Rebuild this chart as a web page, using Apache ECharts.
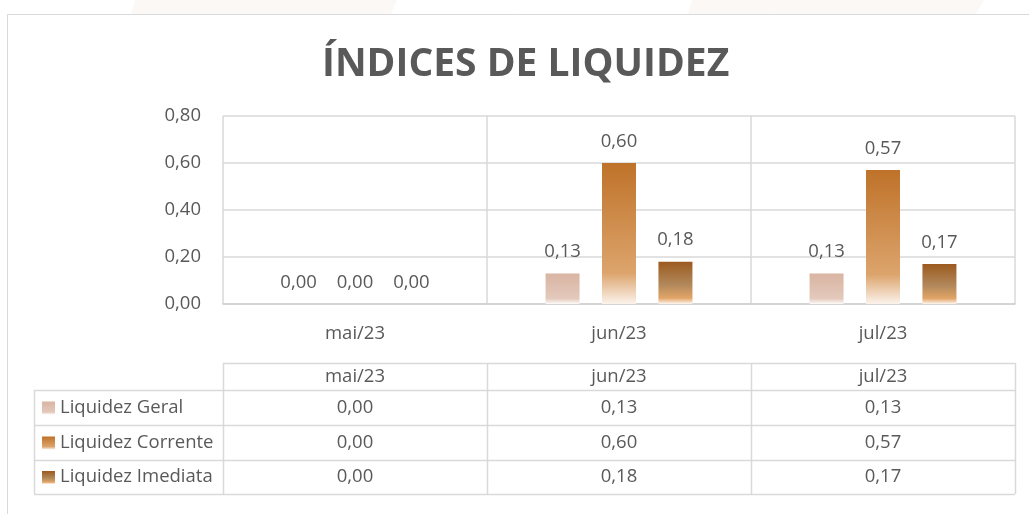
<!DOCTYPE html>
<html>
<head>
<meta charset="utf-8">
<script src="https://cdn.jsdelivr.net/npm/echarts@6/dist/echarts.min.js"></script>
<style>
  html, body { margin: 0; padding: 0; background: #fff; }
  #chart { width: 1029px; height: 514px; }
</style>
</head>
<body>
<div id="chart"></div>
<script>
// dados
const categories = ['mai/23', 'jun/23', 'jul/23'];
const seriesNames = ['Liquidez Geral', 'Liquidez Corrente', 'Liquidez Imediata'];
const liqGeral = [0.00, 0.13, 0.13];
const liqCorrente = [0.00, 0.60, 0.57];
const liqImediata = [0.00, 0.18, 0.17];
const yMin = 0, yMax = 0.8, yStep = 0.2;

const fontGray = '#595959';
const lineGray = '#d9d9d9';
const font = 'Open Sans';
const fSize = 18.5;

// gradientes das barras
function grad(stops) {
  return new echarts.graphic.LinearGradient(0, 0, 0, 1,
    stops.map(s => ({ offset: s[0], color: s[1] })));
}
const barColors = [
  [[0, '#d9b4a2'], [0.82, '#e3c9bc'], [1, '#fdfaf8']],
  [[0, '#bf7229'], [0.78, '#dca46c'], [1, '#fbf3ec']],
  [[0, '#9b5a1f'], [0.55, '#b2895c'], [0.86, '#e2a466'], [1, '#fdf6ef']]
];
const fmt = v => v.toFixed(2).replace('.', ',');

// layout da área de plotagem / tabela
const plotL = 223, plotR = 1015, plotT = 116, plotB = 304;
const colW = (plotR - plotL) / categories.length;
const tblRows = [363, 390, 425, 460, 494];
const tblLeft = 34;

const myChart = echarts.init(document.getElementById('chart'));
const allData = [liqGeral, liqCorrente, liqImediata];

// tabela de dados (graphic)
const graphic = [];
// fundo discreto do slide
graphic.push({ type: 'polygon', silent: true, z: -10,
  shape: { points: [[135, 0], [397, 0], [391, 14], [131, 14]] }, style: { fill: '#fcf8f5' } });
graphic.push({ type: 'polygon', silent: true, z: -10,
  shape: { points: [[692, 0], [984, 0], [976, 14], [688, 14]] }, style: { fill: '#fcf8f5' } });
// moldura do gráfico
graphic.push({ type: 'rect', silent: true, z: -5,
  shape: { x: 7.5, y: 14.5, width: 1040, height: 540 },
  style: { fill: '#fff', stroke: lineGray, lineWidth: 1 } });

function hLine(x1, x2, y) {
  graphic.push({ type: 'line', silent: true,
    shape: { x1: x1, y1: y + 0.5, x2: x2, y2: y + 0.5 },
    style: { stroke: lineGray, lineWidth: 1.5 } });
}
function vLine(x, y1, y2) {
  graphic.push({ type: 'line', silent: true,
    shape: { x1: x + 0.5, y1: y1, x2: x + 0.5, y2: y2 },
    style: { stroke: lineGray, lineWidth: 1.5 } });
}
hLine(plotL, plotR, tblRows[0]);
for (let r = 1; r < tblRows.length; r++) hLine(tblLeft, plotR, tblRows[r]);
vLine(tblLeft, tblRows[1], tblRows[4]);
for (let c = 0; c <= categories.length; c++) vLine(plotL + c * colW, tblRows[0], tblRows[4]);

function cellText(x, y, text, align) {
  graphic.push({ type: 'text', silent: true, x: x, y: y,
    style: { text: text, fill: fontGray, font: fSize + 'px "' + font + '"',
      textAlign: align || 'center', textVerticalAlign: 'middle' } });
}
categories.forEach((c, j) => {
  cellText(plotL + (j + 0.5) * colW, (tblRows[0] + tblRows[1]) / 2, c);
});
seriesNames.forEach((name, i) => {
  const yc = (tblRows[i + 1] + tblRows[i + 2]) / 2;
  graphic.push({ type: 'rect', silent: true,
    shape: { x: 42, y: yc - 6, width: 13, height: 13 },
    style: { fill: grad(barColors[i]) } });
  cellText(60, yc, name, 'left');
  allData[i].forEach((v, j) => cellText(plotL + (j + 0.5) * colW, yc, fmt(v)));
});

const option = {
  animation: false,
  textStyle: { fontFamily: font },
  title: {
    text: 'ÍNDICES DE LIQUIDEZ',
    left: 317,
    top: 40,
    textStyle: { color: fontGray, fontSize: 39, fontWeight: 'bold', fontFamily: font }
  },
  grid: { left: plotL, right: 1029 - plotR, top: plotT, bottom: 514 - plotB, containLabel: false },
  xAxis: {
    type: 'category',
    data: categories,
    axisLine: { lineStyle: { color: '#d0d0d0', width: 1.5 } },
    axisTick: { show: false },
    axisLabel: { color: fontGray, fontSize: fSize, margin: 20 },
    splitLine: { show: true, lineStyle: { color: lineGray, width: 1.5 } }
  },
  yAxis: {
    type: 'value',
    min: yMin, max: yMax, interval: yStep,
    axisLine: { show: false },
    axisTick: { show: false },
    axisLabel: { color: fontGray, fontSize: fSize, margin: 22, formatter: v => fmt(v) },
    splitLine: { lineStyle: { color: lineGray, width: 1.5 } }
  },
  series: seriesNames.map((name, i) => ({
    name: name,
    type: 'bar',
    data: allData[i],
    barWidth: 34,
    barGap: '66%',
    itemStyle: { color: grad(barColors[i]) },
    label: {
      show: true, position: 'top', distance: 12,
      color: fontGray, fontSize: fSize, formatter: p => fmt(p.value)
    }
  })),
  graphic: graphic
};
myChart.setOption(option);
</script>
</body>
</html>
